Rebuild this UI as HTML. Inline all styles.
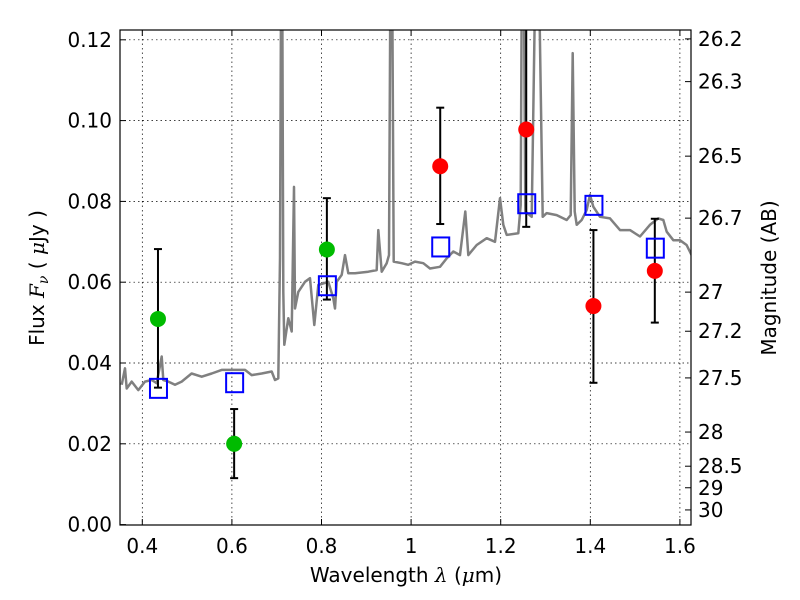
<!DOCTYPE html>
<html><head><meta charset="utf-8"><style>
body{margin:0;background:#fff}
svg{display:block;font-family:"DejaVu Sans","Liberation Sans",sans-serif}
</style></head><body>
<svg id="chart" width="800" height="600" viewBox="0 0 800 600" xmlns="http://www.w3.org/2000/svg">
<defs><clipPath id="plotclip"><rect x="120" y="30" width="571" height="495"/></clipPath></defs>
<rect x="0" y="0" width="800" height="600" fill="#fff"/>
<g id="grid"></g>
<g id="spec" clip-path="url(#plotclip)"></g>
<g id="marks" clip-path="url(#plotclip)"></g>
<rect x="120" y="30" width="571" height="495" fill="none" stroke="#000" stroke-width="1.2"/>
<g id="axes"></g>
<text x="406" y="582" font-size="20" text-anchor="middle">Wavelength  <tspan font-family="DejaVu Serif,serif" font-style="italic">λ</tspan> (<tspan font-family="DejaVu Serif,serif" font-style="italic">μ</tspan>m)</text>
<text transform="translate(44,278) rotate(-90)" font-size="20" text-anchor="middle">Flux  <tspan font-family="DejaVu Serif,serif" font-style="italic">F<tspan font-size="14" dy="4">ν</tspan></tspan><tspan dy="-4">  ( </tspan><tspan font-family="DejaVu Serif,serif" font-style="italic">μ</tspan>Jy )</text>
<text transform="translate(776,278) rotate(-90)" font-size="20" text-anchor="middle">Magnitude (AB)</text>
</svg>
<script>
const xTicks=[0.4,0.6,0.8,1.0,1.2,1.4,1.6];
const xTickLabels=["0.4","0.6","0.8","1","1.2","1.4","1.6"];
const yTicks=[0,0.02,0.04,0.06,0.08,0.10,0.12];
const yTickLabels=["0.00","0.02","0.04","0.06","0.08","0.10","0.12"];
const magTicks=[26.2,26.3,26.5,26.7,27,27.2,27.5,28,28.5,29,30];
const magLabels=["26.2","26.3","26.5","26.7","27","27.2","27.5","28","28.5","29","30"];
const specWave=[0.354,0.3614,0.3652,0.3763,0.3911,0.406,0.421,0.4321,0.4433,0.4469,0.458,0.473,0.488,0.510,0.5326,0.5549,0.5772,0.6069,0.6292,0.6442,0.6665,0.6888,0.6962,0.7036,0.7074,0.7096,0.7125,0.7147,0.717,0.7259,0.7335,0.7386,0.7408,0.7483,0.7632,0.7743,0.7839,0.7929,0.8152,0.8263,0.8301,0.8339,0.8451,0.8525,0.8598,0.8748,0.9045,0.9232,0.9268,0.9344,0.9455,0.9507,0.9536,0.958,0.9612,0.979,0.9938,1.0087,1.0272,1.0422,1.0645,1.0795,1.0942,1.1092,1.121,1.1277,1.1464,1.1688,1.1873,1.1984,1.2058,1.2134,1.2393,1.2447,1.2469,1.252,1.255,1.2692,1.2766,1.2862,1.2938,1.3027,1.325,1.3473,1.3562,1.3607,1.3652,1.3696,1.3808,1.392,1.3993,1.4067,1.4217,1.444,1.4663,1.4886,1.511,1.5333,1.5518,1.563,1.5705,1.5853,1.6,1.615,1.6261];
const specFlux=[0.0346,0.0387,0.0337,0.0354,0.0333,0.0354,0.0358,0.0350,0.0416,0.0358,0.0354,0.0346,0.0354,0.0374,0.0366,0.0374,0.0383,0.0383,0.0383,0.0370,0.0374,0.0379,0.0358,0.0362,0.0659,0.13,0.13,0.0576,0.0445,0.0511,0.0478,0.0836,0.0535,0.0576,0.0601,0.0610,0.0494,0.0593,0.0601,0.0560,0.0535,0.0601,0.0618,0.0667,0.0622,0.0622,0.0626,0.0630,0.0729,0.0626,0.0647,0.0667,0.13,0.13,0.0651,0.0647,0.0643,0.0651,0.0647,0.0634,0.0638,0.0659,0.0676,0.0667,0.0775,0.0667,0.0692,0.0709,0.0700,0.0808,0.0742,0.0717,0.0721,0.0791,0.13,0.13,0.0775,0.0762,0.13,0.13,0.0762,0.0771,0.0766,0.0754,0.0766,0.1167,0.0775,0.0742,0.0754,0.0779,0.0816,0.0787,0.0762,0.0758,0.0729,0.0729,0.0713,0.0742,0.0758,0.0754,0.0725,0.0704,0.0704,0.0692,0.0667];
const obsWave=[0.435,0.605,0.812,1.065,1.257,1.407,1.544];
const obsFlux=[0.0509,0.0200,0.0681,0.0887,0.0978,0.0541,0.0628];
const obsErrHi=[0.0682,0.0286,0.0808,0.1032,0.135,0.0729,0.0757];
const obsErrLo=[0.0339,0.0115,0.0557,0.0744,0.0737,0.0351,0.0500];
const obsColors=["#00bb00","#00bb00","#00bb00","#ff0000","#ff0000","#ff0000","#ff0000"];
const modelFlux=[0.0336,0.0350,0.0590,0.0686,0.0793,0.0789,0.0683];

const NS="http://www.w3.org/2000/svg";
const X=v=>142.3+(v-0.4)*448;
const Y=v=>524.6-v*4040;
function mk(tag,attrs,parent){const e=document.createElementNS(NS,tag);for(const k in attrs)e.setAttribute(k,attrs[k]);parent.appendChild(e);return e;}
const grid=document.getElementById('grid'),axes=document.getElementById('axes');
const spec=document.getElementById('spec'),marks=document.getElementById('marks');

xTicks.forEach((t,i)=>{const x=X(t);
 const g=mk('line',{x1:x,x2:x,y1:30,y2:525,stroke:'#000','stroke-width':0.7,'stroke-dasharray':'1.5,3'},grid);
 
 mk('line',{x1:x,x2:x,y1:525,y2:519,stroke:'#000'},axes);
 mk('line',{x1:x,x2:x,y1:30,y2:36,stroke:'#000'},axes);
 const tx=mk('text',{x:x,y:553,'font-size':20,'text-anchor':'middle'},axes);tx.textContent=xTickLabels[i];
 
});
yTicks.forEach((t,i)=>{const y=Y(t);
 if(t>0){const g=mk('line',{x1:120,x2:691,y1:y,y2:y,stroke:'#000','stroke-width':0.7,'stroke-dasharray':'1.5,3'},grid);
 }
 mk('line',{x1:120,x2:126,y1:y,y2:y,stroke:'#000'},axes);
 const tx=mk('text',{x:112,y:y+7,'font-size':20,'text-anchor':'end'},axes);tx.textContent=yTickLabels[i];
 
});
magTicks.forEach((m,i)=>{const f=Math.pow(10,(23.9-m)/2.5);const y=Y(f);
 mk('line',{x1:685,x2:691,y1:y,y2:y,stroke:'#000'},axes);
 const tx=mk('text',{x:698,y:y+7,'font-size':20,'text-anchor':'start'},axes);tx.textContent=magLabels[i];
 
});

let d='';specWave.forEach((w,i)=>{d+=(i?'L':'M')+X(w).toFixed(1)+','+Y(specFlux[i]).toFixed(1);});
const sp=mk('path',{d:d,fill:'none',stroke:'#808080','stroke-width':2.5,'stroke-linejoin':'round'},spec);


obsWave.forEach((w,i)=>{const x=X(w);
 const eb=mk('g',{},marks);
 
 mk('line',{x1:x,x2:x,y1:Y(obsErrHi[i]),y2:Y(obsErrLo[i]),stroke:'#000','stroke-width':2},eb);
 mk('line',{x1:x-4,x2:x+4,y1:Y(obsErrHi[i]),y2:Y(obsErrHi[i]),stroke:'#000','stroke-width':2},eb);
 mk('line',{x1:x-4,x2:x+4,y1:Y(obsErrLo[i]),y2:Y(obsErrLo[i]),stroke:'#000','stroke-width':2},eb);
 const sq=mk('rect',{x:x-8,y:Y(modelFlux[i])-10,width:17,height:19,fill:'none',stroke:'#0000ff','stroke-width':2},marks);
 
 const c=mk('circle',{cx:x,cy:Y(obsFlux[i]),r:8,fill:obsColors[i]},marks);
 
});
</script>
</body></html>
